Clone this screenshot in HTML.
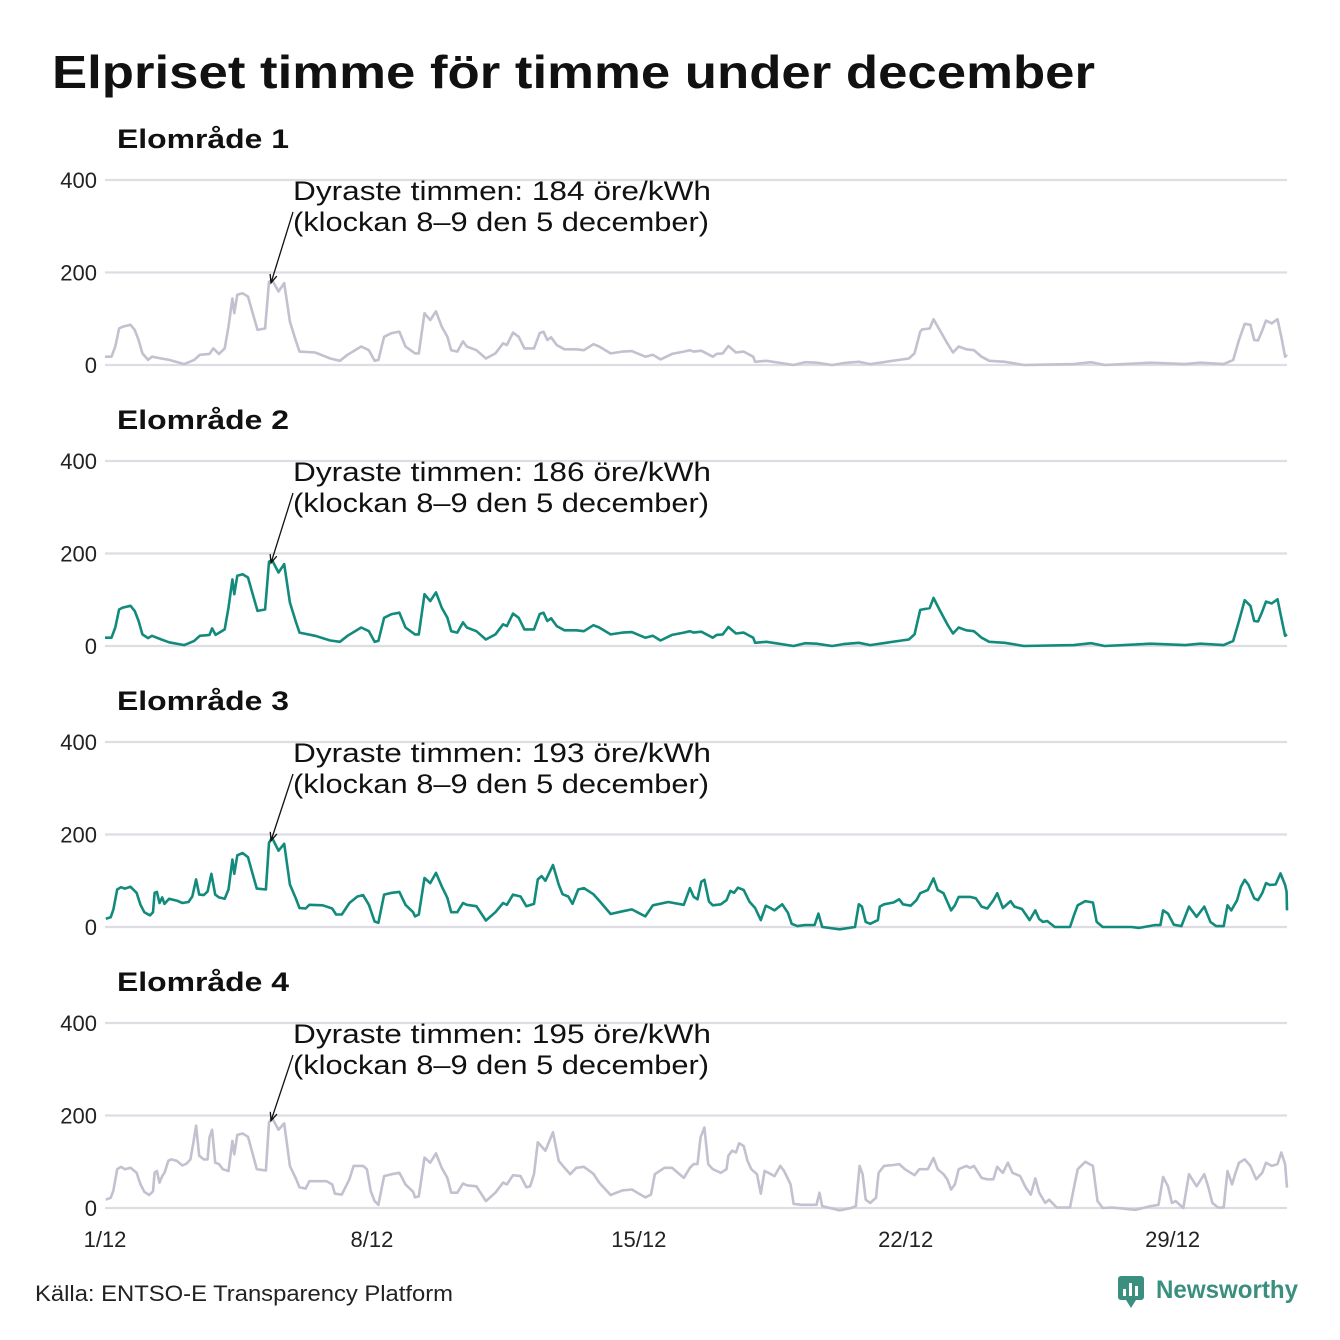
<!DOCTYPE html>
<html><head><meta charset="utf-8">
<style>
html,body{margin:0;padding:0;background:#fff;}
svg{display:block;font-family:"Liberation Sans","DejaVu Sans",sans-serif;}
</style></head>
<body>
<svg id="chart" width="1340" height="1340" viewBox="0 0 1340 1340" xmlns="http://www.w3.org/2000/svg">
<text x="52" y="88" font-size="46" font-weight="bold" fill="#111" textLength="1043" lengthAdjust="spacingAndGlyphs">Elpriset timme för timme under december</text>
<g id="panels"></g>
<g id="xaxis"></g>
<text x="35" y="1301" font-size="22" fill="#222" textLength="418" lengthAdjust="spacingAndGlyphs">Källa: ENTSO-E Transparency Platform</text>
<g>
<rect x="1118" y="1276" width="26" height="24" rx="3" fill="#3a8f7f"/>
<path d="M1126 1300 L1131 1308 L1136 1300 Z" fill="#3a8f7f"/>
<rect x="1123" y="1289" width="3" height="7" fill="#fff"/><rect x="1129" y="1283" width="3" height="13" fill="#fff"/><rect x="1135" y="1286" width="3" height="10" fill="#fff"/>
<text x="1156" y="1298" font-size="25" font-weight="bold" fill="#3a8f7f" textLength="142" lengthAdjust="spacingAndGlyphs">Newsworthy</text>
</g>
</svg>
<script>
const panelTitles = ["Elområde 1","Elområde 2","Elområde 3","Elområde 4"];
const peakValues = [184,186,193,195];
const yTicks = [0,200,400];
const xTickDays = [0,7,14,21,28];
const xTickLabels = ["1/12","8/12","15/12","22/12","29/12"];
const area1 = [[0,18],[0.17,18],[0.27,40],[0.37,79],[0.47,83],[0.67,87],[0.78,76],[0.88,54],[0.98,25],[1.13,11],[1.23,18],[1.48,14],[1.68,11],[2.08,2],[2.34,11],[2.49,22],[2.74,24],[2.84,36],[2.99,24],[3.14,36],[3.24,83],[3.34,144],[3.39,112],[3.47,152],[3.61,155],[3.75,148],[3.85,119],[4.0,76],[4.2,79],[4.3,180],[4.38,184],[4.55,159],[4.7,177],[4.85,94],[5.0,54],[5.1,29],[5.51,27],[5.91,14],[6.16,9],[6.36,22],[6.72,40],[6.92,32],[7.07,9],[7.17,11],[7.32,61],[7.52,69],[7.72,72],[7.88,40],[8.13,25],[8.23,25],[8.38,112],[8.53,97],[8.68,116],[8.83,83],[8.98,61],[9.08,32],[9.24,29],[9.39,51],[9.49,40],[9.74,32],[9.99,14],[10.24,25],[10.44,47],[10.54,43],[10.7,70],[10.85,61],[11.0,36],[11.25,36],[11.4,69],[11.5,72],[11.6,54],[11.7,60],[11.85,43],[12.05,34],[12.36,34],[12.56,32],[12.81,45],[12.96,40],[13.26,25],[13.57,29],[13.82,30],[14.17,18],[14.37,22],[14.57,12],[14.87,24],[15.18,29],[15.34,32],[15.44,29],[15.64,31],[15.94,18],[16.04,24],[16.2,25],[16.35,41],[16.55,27],[16.75,29],[17.0,18],[17.05,7],[17.35,9],[18.06,0],[18.36,6],[18.66,5],[19.07,0],[19.37,4],[19.77,7],[20.07,2],[20.48,7],[21.08,14],[21.23,25],[21.38,72],[21.43,77],[21.63,79],[21.73,99],[21.89,76],[22.09,47],[22.24,27],[22.39,40],[22.59,34],[22.79,32],[22.99,18],[23.19,9],[23.6,7],[24.1,0],[25.41,2],[25.86,6],[26.22,0],[27.42,5],[28.33,2],[28.73,5],[29.34,2],[29.59,11],[29.74,54],[29.89,89],[30.04,87],[30.14,54],[30.24,53],[30.34,72],[30.45,96],[30.6,90],[30.75,99],[30.85,61],[30.95,18],[31.0,22]];
const area2 = [[0,18],[0.17,18],[0.27,40],[0.37,79],[0.47,83],[0.67,87],[0.78,76],[0.88,54],[0.98,25],[1.13,17],[1.23,22],[1.48,14],[1.68,8],[2.08,2],[2.34,11],[2.49,22],[2.74,24],[2.81,38],[2.9,24],[3.14,36],[3.24,83],[3.34,144],[3.39,112],[3.47,152],[3.61,155],[3.75,148],[3.85,119],[4.0,76],[4.2,79],[4.3,182],[4.38,186],[4.55,159],[4.7,177],[4.85,94],[5.0,54],[5.1,29],[5.51,22],[5.91,12],[6.16,9],[6.36,22],[6.72,40],[6.92,32],[7.07,9],[7.17,11],[7.32,61],[7.52,69],[7.72,72],[7.88,40],[8.13,25],[8.23,25],[8.38,112],[8.53,97],[8.68,116],[8.83,83],[8.98,61],[9.08,32],[9.24,29],[9.39,51],[9.49,40],[9.74,32],[9.99,14],[10.24,25],[10.44,47],[10.54,43],[10.7,70],[10.85,61],[11.0,36],[11.25,36],[11.4,69],[11.5,72],[11.6,54],[11.7,60],[11.85,43],[12.05,34],[12.36,34],[12.56,32],[12.81,45],[12.96,40],[13.26,25],[13.57,29],[13.82,30],[14.17,18],[14.37,22],[14.57,12],[14.87,24],[15.18,29],[15.34,32],[15.44,29],[15.64,31],[15.94,18],[16.04,24],[16.2,25],[16.35,41],[16.55,27],[16.75,29],[17.0,18],[17.05,7],[17.35,9],[18.06,0],[18.36,6],[18.66,5],[19.07,0],[19.37,4],[19.77,7],[20.07,2],[20.48,7],[21.08,14],[21.23,25],[21.38,78],[21.43,79],[21.63,82],[21.73,104],[21.89,78],[22.09,47],[22.24,27],[22.39,40],[22.59,34],[22.79,32],[22.99,18],[23.19,9],[23.6,7],[24.1,0],[25.41,2],[25.86,6],[26.22,0],[27.42,5],[28.33,2],[28.73,5],[29.34,2],[29.59,11],[29.74,54],[29.89,99],[30.04,87],[30.14,54],[30.24,53],[30.34,72],[30.45,96],[30.6,92],[30.75,101],[30.85,61],[30.95,22],[31.0,25]];
const area3 = [[0.02,18],[0.15,21],[0.22,38],[0.32,81],[0.42,86],[0.52,83],[0.67,87],[0.83,74],[0.93,48],[1.03,32],[1.18,25],[1.26,32],[1.3,74],[1.36,76],[1.43,52],[1.5,64],[1.56,50],[1.68,61],[1.88,57],[2.03,52],[2.19,54],[2.29,66],[2.39,103],[2.47,70],[2.59,69],[2.69,77],[2.79,115],[2.89,70],[2.99,64],[3.14,61],[3.24,81],[3.34,146],[3.39,115],[3.47,155],[3.61,160],[3.75,151],[3.85,121],[3.98,83],[4.22,81],[4.3,182],[4.38,193],[4.55,165],[4.7,180],[4.85,92],[5.0,63],[5.1,41],[5.26,40],[5.36,48],[5.71,47],[5.96,40],[6.06,27],[6.21,27],[6.41,52],[6.62,66],[6.77,69],[6.92,48],[7.07,12],[7.17,9],[7.32,70],[7.52,74],[7.72,76],[7.88,48],[8.08,32],[8.13,23],[8.23,27],[8.38,106],[8.53,95],[8.68,117],[8.83,88],[8.98,63],[9.08,32],[9.24,32],[9.39,52],[9.49,48],[9.74,45],[9.99,14],[10.24,32],[10.44,52],[10.54,48],[10.7,70],[10.9,66],[11.05,45],[11.25,50],[11.35,103],[11.45,110],[11.55,100],[11.75,134],[11.9,92],[12.0,71],[12.15,66],[12.26,50],[12.41,81],[12.56,84],[12.81,71],[12.96,57],[13.26,28],[13.57,34],[13.82,38],[14.17,23],[14.37,47],[14.77,54],[15.18,48],[15.34,84],[15.44,65],[15.54,60],[15.64,98],[15.72,102],[15.84,55],[15.94,47],[16.15,49],[16.3,58],[16.4,78],[16.5,74],[16.6,85],[16.75,80],[16.9,55],[17.05,41],[17.2,15],[17.33,46],[17.45,41],[17.56,36],[17.76,49],[17.91,31],[18.01,7],[18.16,2],[18.36,4],[18.61,4],[18.71,29],[18.81,0],[19.27,-5],[19.67,0],[19.77,49],[19.85,44],[19.95,11],[20.07,7],[20.27,15],[20.32,44],[20.43,49],[20.68,53],[20.83,60],[20.93,49],[21.13,46],[21.28,58],[21.38,73],[21.58,80],[21.73,105],[21.84,80],[21.99,73],[22.19,36],[22.29,47],[22.39,65],[22.69,65],[22.84,62],[22.99,44],[23.14,40],[23.3,58],[23.4,73],[23.55,41],[23.75,56],[23.85,44],[24.05,39],[24.25,15],[24.4,36],[24.5,17],[24.6,11],[24.71,13],[24.91,0],[25.31,0],[25.41,25],[25.51,47],[25.71,56],[25.91,53],[26.01,11],[26.17,0],[26.42,0],[26.92,0],[27.12,-2],[27.53,4],[27.68,4],[27.75,36],[27.88,29],[28.03,5],[28.23,2],[28.43,44],[28.63,22],[28.83,44],[28.99,11],[29.14,2],[29.34,2],[29.44,47],[29.54,36],[29.69,58],[29.79,87],[29.89,102],[29.99,91],[30.14,62],[30.24,58],[30.35,73],[30.45,95],[30.55,91],[30.7,92],[30.83,116],[30.95,91],[30.99,76],[31.0,36]];
const area4 = [[0.02,18],[0.15,22],[0.22,38],[0.32,84],[0.42,89],[0.52,84],[0.67,87],[0.83,76],[0.93,51],[1.03,35],[1.16,28],[1.26,36],[1.3,76],[1.36,80],[1.43,55],[1.5,69],[1.56,76],[1.66,102],[1.73,105],[1.88,102],[2.03,92],[2.14,96],[2.24,105],[2.31,138],[2.39,178],[2.47,113],[2.59,105],[2.69,105],[2.74,153],[2.81,169],[2.89,98],[2.99,95],[3.09,84],[3.24,80],[3.34,145],[3.39,116],[3.47,158],[3.61,161],[3.75,154],[3.85,124],[3.98,84],[4.22,81],[4.3,185],[4.38,195],[4.55,169],[4.7,183],[4.85,91],[5.0,65],[5.1,45],[5.26,42],[5.36,58],[5.81,58],[5.96,51],[6.03,31],[6.21,29],[6.41,62],[6.52,91],[6.77,91],[6.87,84],[6.97,36],[7.07,15],[7.17,7],[7.32,69],[7.52,73],[7.72,76],[7.88,51],[8.08,35],[8.13,23],[8.23,25],[8.38,109],[8.53,98],[8.68,118],[8.83,87],[8.98,65],[9.08,33],[9.24,33],[9.39,53],[9.49,49],[9.74,47],[9.99,15],[10.24,33],[10.44,55],[10.54,51],[10.7,71],[10.9,69],[11.05,45],[11.15,47],[11.25,73],[11.35,142],[11.55,124],[11.75,164],[11.9,102],[12.05,87],[12.2,73],[12.36,87],[12.56,89],[12.81,74],[12.96,55],[13.26,28],[13.57,38],[13.82,40],[14.17,23],[14.32,29],[14.42,73],[14.67,87],[14.87,87],[15.18,65],[15.34,87],[15.44,95],[15.54,95],[15.62,153],[15.72,174],[15.82,95],[15.94,84],[16.15,76],[16.3,84],[16.35,113],[16.45,124],[16.55,120],[16.63,140],[16.75,134],[16.85,102],[16.95,84],[17.1,73],[17.2,31],[17.3,80],[17.4,76],[17.56,69],[17.71,91],[17.81,80],[17.98,51],[18.06,9],[18.26,7],[18.66,7],[18.74,33],[18.81,4],[19.27,-5],[19.57,0],[19.69,4],[19.79,91],[19.87,73],[19.95,18],[20.07,11],[20.22,22],[20.29,76],[20.43,91],[20.68,93],[20.83,95],[20.98,84],[21.23,71],[21.36,84],[21.58,84],[21.73,108],[21.84,84],[21.99,73],[22.09,62],[22.19,40],[22.29,51],[22.39,84],[22.59,91],[22.69,87],[22.79,91],[22.99,65],[23.14,62],[23.3,62],[23.4,89],[23.5,80],[23.55,76],[23.68,98],[23.8,76],[24.0,69],[24.15,44],[24.28,29],[24.4,64],[24.5,33],[24.66,11],[24.76,18],[24.96,1],[25.31,1],[25.41,44],[25.51,84],[25.71,100],[25.91,91],[26.03,15],[26.17,0],[26.42,1],[27.02,-4],[27.42,4],[27.63,7],[27.75,67],[27.88,47],[27.98,11],[28.08,15],[28.28,0],[28.43,73],[28.63,47],[28.83,73],[28.94,44],[29.04,11],[29.19,1],[29.34,1],[29.44,80],[29.56,51],[29.64,73],[29.74,98],[29.89,105],[30.04,91],[30.19,62],[30.35,76],[30.45,98],[30.6,91],[30.75,95],[30.85,120],[30.95,95],[31.0,44]];
const seriesData = [area1, area2, area3, area4];
const seriesColors = ["#c2c1cf","#128b7c","#128b7c","#c2c1cf"];

const NS = "http://www.w3.org/2000/svg";
const X0 = 105, X1 = 1287, DAYS = 31;
const xScale = d => X0 + (d / DAYS) * (X1 - X0);
const PANEL_STEP = 281, ZERO0 = 365, PX_PER_UNIT = 0.4625;
function yScale(panel, v) { return ZERO0 + panel * PANEL_STEP - v * PX_PER_UNIT; }
function mk(tag, attrs, parent) {
  const el = document.createElementNS(NS, tag);
  for (const k in attrs) el.setAttribute(k, attrs[k]);
  parent.appendChild(el);
  return el;
}
const panels = document.getElementById("panels");
seriesData.forEach((data, p) => {
  const g = mk("g", {}, panels);
  
  
  const t = mk("text", {x: 117, y: 148 + p * PANEL_STEP, "font-size": 27, "font-weight": "bold", fill: "#111", textLength: 172, lengthAdjust: "spacingAndGlyphs"}, g);
  t.textContent = panelTitles[p];
  
  
  yTicks.forEach(v => {
    const y = yScale(p, v);
    const gl = mk("line", {x1: X0, x2: X1, y1: y, y2: y, stroke: "#dedde3", "stroke-width": 2.2}, g);
    
    
    const lb = mk("text", {x: 97, y: y + 8, "font-size": 22, fill: "#222", "text-anchor": "end"}, g);
    lb.textContent = v;
    
    
  });
  const d = data.map((pt, i) => (i ? "L" : "M") + xScale(pt[0]).toFixed(1) + " " + yScale(p, pt[1]).toFixed(1)).join(" ");
  const path = mk("path", {d: d, fill: "none", stroke: seriesColors[p], "stroke-width": 2.6, "stroke-linejoin": "round"}, g);
  
  
  let peak = data[0];
  data.forEach(pt => { if (pt[1] > peak[1]) peak = pt; });
  const tipX = xScale(peak[0]) - 1, tipY = yScale(p, peakValues[p]) + 3;
  const ag = mk("g", {}, g);
  
  
  const a1 = mk("text", {x: 293, y: 200 + p * PANEL_STEP, "font-size": 27, fill: "#111", textLength: 418, lengthAdjust: "spacingAndGlyphs"}, ag);
  a1.textContent = "Dyraste timmen: " + peakValues[p] + " öre/kWh";
  const a2 = mk("text", {x: 293, y: 231 + p * PANEL_STEP, "font-size": 27, fill: "#111", textLength: 416, lengthAdjust: "spacingAndGlyphs"}, ag);
  a2.textContent = "(klockan 8–9 den 5 december)";
  const sy = 212 + p * PANEL_STEP;
  mk("line", {x1: 293, y1: sy, x2: tipX, y2: tipY, stroke: "#111", "stroke-width": 1.3}, ag);
  const ang = Math.atan2(tipY - sy, tipX - 293);
  const L = 9, w = 0.4;
  mk("path", {d: `M${tipX - L*Math.cos(ang - w)} ${tipY - L*Math.sin(ang - w)} L${tipX} ${tipY} L${tipX - L*Math.cos(ang + w)} ${tipY - L*Math.sin(ang + w)}`, fill: "none", stroke: "#111", "stroke-width": 1.3}, ag);
});
const xg = document.getElementById("xaxis");
xTickDays.forEach((d, i) => {
  const t = mk("text", {x: xScale(d), y: 1247, "font-size": 22, fill: "#222", "text-anchor": "middle"}, xg);
  t.textContent = xTickLabels[i];
  
  
});
</script>
</body></html>
